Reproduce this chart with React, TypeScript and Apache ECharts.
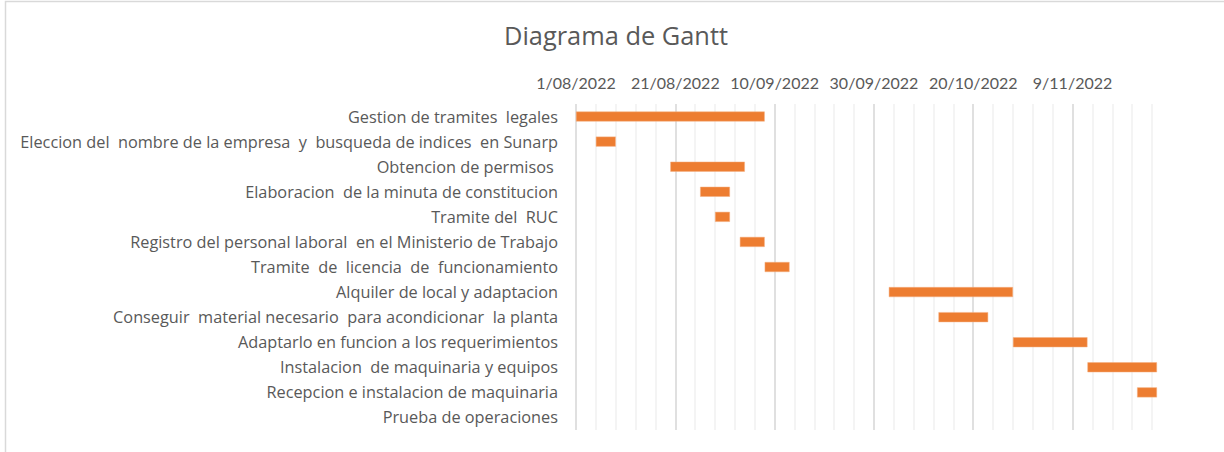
import React, { useEffect, useRef } from "react";
import * as echarts from "echarts";

const TITLE = "Diagrama de Gantt";
const TASKS = [
  "Gestion de tramites  legales",
  "Eleccion del  nombre de la empresa  y  busqueda de indices  en Sunarp",
  "Obtencion de permisos ",
  "Elaboracion  de la minuta de constitucion",
  "Tramite del  RUC",
  "Registro del personal laboral  en el Ministerio de Trabajo",
  "Tramite  de  licencia  de  funcionamiento",
  "Alquiler de local y adaptacion",
  "Conseguir  material necesario  para acondicionar  la planta",
  "Adaptarlo en funcion a los requerimientos",
  "Instalacion  de maquinaria y equipos",
  "Recepcion e instalacion de maquinaria",
  "Prueba de operaciones",
];
const START_DATES: (string | null)[] = [
  "2022-08-01",
  "2022-08-05",
  "2022-08-20",
  "2022-08-26",
  "2022-08-29",
  "2022-09-03",
  "2022-09-08",
  "2022-10-03",
  "2022-10-13",
  "2022-10-28",
  "2022-11-12",
  "2022-11-22",
  null,
];
const DURATIONS: (number | null)[] = [38, 4, 15, 6, 3, 5, 5, 25, 10, 15, 14, 4, null];
const AXIS_START = "2022-08-01";
const AXIS_END = "2022-11-25";
const TICK_LABELS = ["1/08/2022", "21/08/2022", "10/09/2022", "30/09/2022", "20/10/2022", "9/11/2022"];

const DAY = 86400000;
const dayOffset = (d: string) =>
  Math.round((Date.parse(d + "T00:00:00Z") - Date.parse(AXIS_START + "T00:00:00Z")) / DAY);

export default function App() {
  const ref = useRef<HTMLDivElement>(null);
  useEffect(() => {
    if (!ref.current) return;
    const chart = echarts.init(ref.current, undefined, { renderer: "svg" });
    const starts = START_DATES.map((d) => (d ? dayOffset(d) : null));
    const font = "'Open Sans', Lato, sans-serif";
    const tickFont = "Lato, 'Open Sans', sans-serif";
    chart.setOption({
      animation: false,
      backgroundColor: "#ffffff",
      title: {
        text: TITLE,
        left: 611,
        textAlign: "center",
        top: 17,
        textStyle: { fontFamily: font, fontSize: 25.4, fontWeight: "normal", color: "#595959" },
      },
      graphic: [
        {
          type: "rect",
          shape: { x: 5.5, y: 1.5, width: 1300, height: 500 },
          style: { fill: "none", stroke: "#d9d9d9", lineWidth: 1.5 },
          silent: true,
          z: 100,
        },
      ],
      grid: { left: 576, right: 72, top: 104, bottom: 22, containLabel: false },
      xAxis: {
        type: "value",
        position: "top",
        min: 0,
        max: dayOffset(AXIS_END),
        interval: 4,
        axisLine: { show: false },
        axisTick: { show: false },
        axisLabel: {
          margin: 14,
          fontFamily: tickFont,
          fontSize: 16,
          color: "#595959",
          formatter: (v: number) => {
            if (v % 20 !== 0) return "";
            return TICK_LABELS[v / 20] ?? "";
          },
        },
        splitLine: {
          show: true,
          lineStyle: {
            color: ["#d6d6d6", "#f0f0f0", "#f0f0f0", "#f0f0f0", "#f0f0f0"],
            width: 1.5,
          },
        },
      },
      yAxis: {
        type: "category",
        data: TASKS,
        inverse: true,
        axisLine: { show: false },
        axisTick: { show: false },
        splitLine: { show: false },
        axisLabel: {
          margin: 18,
          fontFamily: font,
          fontSize: 16.3,
          color: "#595959",
        },
      },
      series: [
        {
          type: "bar",
          stack: "g",
          data: starts,
          itemStyle: { color: "transparent" },
          barWidth: 10,
          silent: true,
        },
        {
          type: "bar",
          stack: "g",
          data: DURATIONS,
          barWidth: 10,
          clip: false,
          itemStyle: { color: "#ED7D31", borderColor: "#f4b183", borderWidth: 0.5 },
        },
      ],
    });
    return () => chart.dispose();
  }, []);
  return (
    <div
      ref={ref}
      style={{ position: "absolute", left: 0, top: 0, width: 1224, height: 452 }}
    />
  );
}
